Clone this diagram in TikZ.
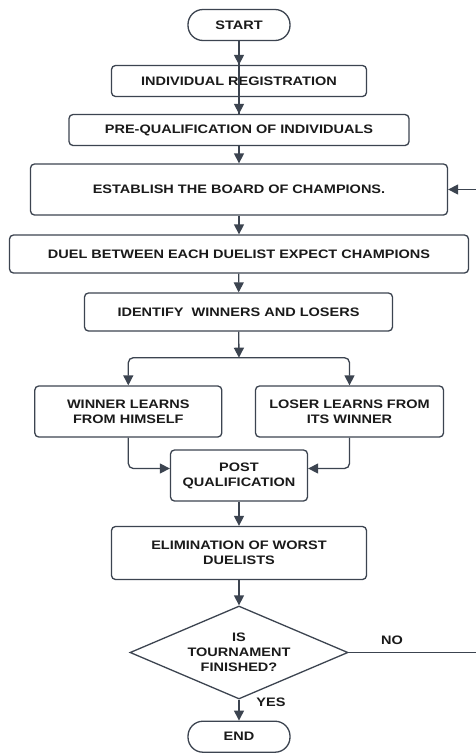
\documentclass[tikz,border=0pt]{standalone}
\usepackage{fontspec}
\setmainfont{Liberation Sans}[FakeStretch=1.18]
\usetikzlibrary{arrows.meta,shapes.geometric}
\definecolor{ln}{HTML}{3C4450}
\definecolor{tx}{HTML}{1A1A1A}
\tikzset{
  base/.style={draw=ln, line width=1.3pt, text=tx, align=center, inner sep=0pt,
    font=\fontsize{12.3}{15}\selectfont\bfseries},
  procbox/.style={base, rectangle, rounded corners=4pt},
  termbox/.style={base, rectangle, rounded corners=15pt, minimum width=102pt, minimum height=31pt},
  decbox/.style={base, diamond, aspect=2.34, minimum width=218pt, minimum height=93pt},
  arr/.style={draw=ln, line width=1.3pt, -{Triangle[length=10pt,width=10pt]}},
  plain/.style={draw=ln, line width=1.3pt},
  lbl/.style={text=tx, inner sep=0pt, font=\fontsize{12.3}{15}\selectfont\bfseries}
}
\begin{document}
\begin{tikzpicture}[x=1pt,y=-1pt]
\useasboundingbox[fill=white] (0,0) rectangle (475,753);
\node[termbox] (start) at (239,25) {START};
\node[procbox, minimum width=255pt, minimum height=31pt] (reg) at (239,81) {INDIVIDUAL REGISTRATION};
\node[procbox, minimum width=340pt, minimum height=31pt] (pre) at (239,130) {PRE-QUALIFICATION OF INDIVIDUALS};
\node[procbox, minimum width=417pt, minimum height=51pt] (est) at (239,189.5) {ESTABLISH THE BOARD OF CHAMPIONS.};
\node[procbox, minimum width=459pt, minimum height=38pt] (duel) at (239,254) {DUEL BETWEEN EACH DUELIST EXPECT CHAMPIONS};
\node[procbox, minimum width=308pt, minimum height=38pt] (ident) at (238.5,312) {IDENTIFY\ \ WINNERS AND LOSERS};
\node[procbox, minimum width=187pt, minimum height=51pt] (win) at (128.3,411.5) {WINNER LEARNS\\FROM HIMSELF};
\node[procbox, minimum width=188pt, minimum height=51pt] (los) at (349.5,411.5) {LOSER LEARNS FROM\\ITS WINNER};
\node[procbox, minimum width=137pt, minimum height=51pt] (post) at (239,475.5) {POST\\QUALIFICATION};
\node[procbox, minimum width=255pt, minimum height=53pt] (elim) at (239,553) {ELIMINATION OF WORST\\DUELISTS};
\node[decbox] (dec) at (239,652.5) {IS\\TOURNAMENT\\FINISHED?};
\node[termbox] (end) at (239,736.7) {END};
\node[lbl] (yes) at (271,702) {YES};
\node[lbl] (no) at (392,640) {NO};
\coordinate (jn) at (239,357.7);
\coordinate (l1) at (480,652.5);
\coordinate (l2) at (480,189.5);

\draw[plain] (start.south) -- (pre.north);
\draw[arr] (start) -- (reg);
\draw[arr] (reg) -- (pre);
\draw[arr] (pre) -- (est);
\draw[arr] (est) -- (duel);
\draw[arr] (duel) -- (ident);
\draw[arr] (ident) -- (jn);
\draw[arr, rounded corners=5pt] (jn) -| (win.north);
\draw[arr, rounded corners=5pt] (jn) -| (los.north);
\draw[arr, rounded corners=5pt] (win.south) |- ([yshift=7pt]post.west);
\draw[arr, rounded corners=5pt] (los.south) |- ([yshift=7pt]post.east);
\draw[arr] (post) -- (elim);
\draw[arr] (elim) -- (dec);
\draw[arr] (dec) -- (end);
\draw[plain] (dec.east) -- (l1) -- (l2);
\draw[arr] (l2) -- (est.east);
\end{tikzpicture}
\end{document}
